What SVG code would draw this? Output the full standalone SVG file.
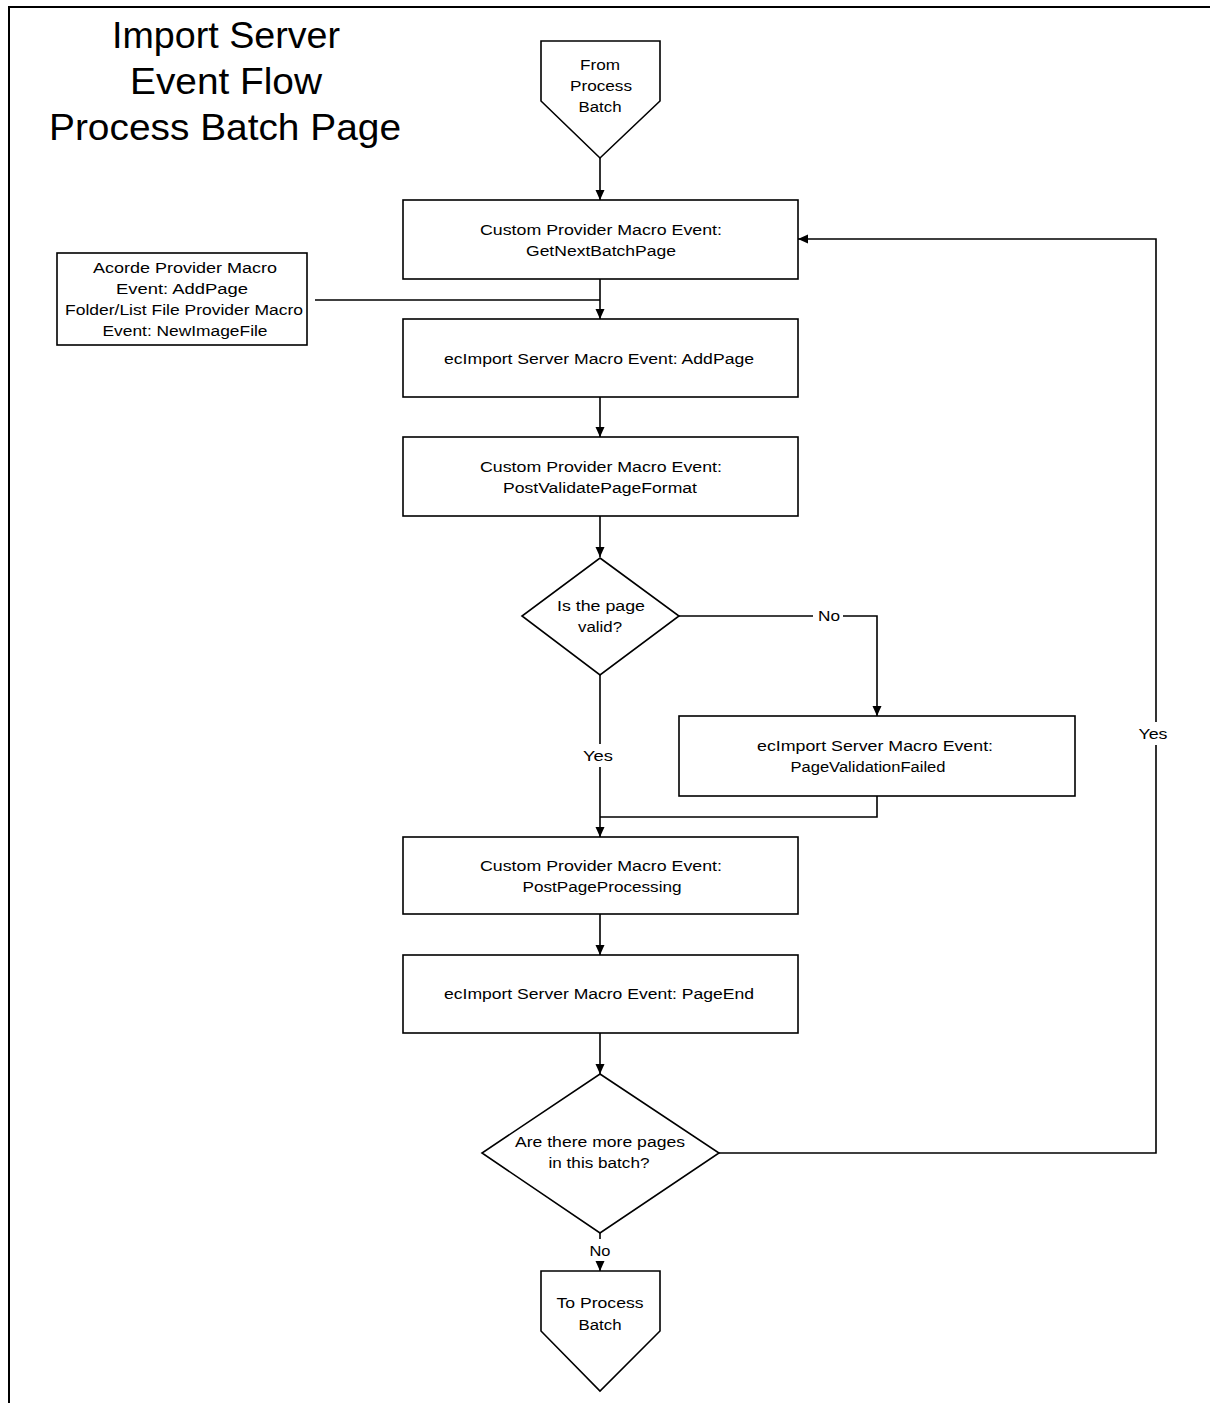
<svg xmlns="http://www.w3.org/2000/svg" width="1210" height="1403" viewBox="0 0 1210 1403">
<style>
.shape{fill:#fff;stroke:#000;stroke-width:1.6}
.conn{fill:none;stroke:#000;stroke-width:1.6}
text{font-family:"Liberation Sans",Arial,sans-serif;font-size:15.5px;fill:#000;text-anchor:middle}
.title{font-size:36px}
</style>
<defs>
<marker id="arr" markerUnits="userSpaceOnUse" markerWidth="11" markerHeight="11" refX="10" refY="5.5" orient="auto">
<path d="M0,1 L10,5.5 L0,10 Z" fill="#000"/>
</marker>
</defs>
<rect x="0" y="0" width="1210" height="1403" fill="#fff"/>
<path d="M9,1403 V7 H1210" fill="none" stroke="#000" stroke-width="2"/>
<g id="title">
<text class="title" x="226" y="48" textLength="228" lengthAdjust="spacingAndGlyphs">Import Server</text>
<text class="title" x="226" y="94" textLength="192" lengthAdjust="spacingAndGlyphs">Event Flow</text>
<text class="title" x="225" y="140" textLength="352" lengthAdjust="spacingAndGlyphs">Process Batch Page</text>
</g>
<g id="connectors">
<path class="conn" d="M600,158 V200" marker-end="url(#arr)"/>
<path class="conn" d="M600,279 V319" marker-end="url(#arr)"/>
<path class="conn" d="M315,300 H600"/>
<path class="conn" d="M600,397 V437" marker-end="url(#arr)"/>
<path class="conn" d="M600,516 V557" marker-end="url(#arr)"/>
<path class="conn" d="M679,616 H813"/>
<path class="conn" d="M843,616 H877 V716" marker-end="url(#arr)"/>
<path class="conn" d="M600,675 V744"/>
<path class="conn" d="M600,767 V837" marker-end="url(#arr)"/>
<path class="conn" d="M877,796 V817 H600"/>
<path class="conn" d="M600,914 V955" marker-end="url(#arr)"/>
<path class="conn" d="M600,1033 V1074" marker-end="url(#arr)"/>
<path class="conn" d="M719,1153 H1156 V745"/>
<path class="conn" d="M1156,722 V239 H798" marker-end="url(#arr)"/>
<path class="conn" d="M600,1233 V1239"/>
<path class="conn" d="M600,1261 V1271" marker-end="url(#arr)"/>
<text x="829" y="621" textLength="22" lengthAdjust="spacingAndGlyphs">No</text>
<text x="598" y="761" textLength="30" lengthAdjust="spacingAndGlyphs">Yes</text>
<text x="1153" y="739" textLength="29" lengthAdjust="spacingAndGlyphs">Yes</text>
<text x="600" y="1256" textLength="21" lengthAdjust="spacingAndGlyphs">No</text>
</g>
<g id="from-process-batch">
<path class="shape" d="M541,41 H660 V101 L600,158 L541,101 Z"/>
<text x="600" y="70" textLength="40" lengthAdjust="spacingAndGlyphs">From</text>
<text x="601" y="91" textLength="62" lengthAdjust="spacingAndGlyphs">Process</text>
<text x="600" y="112" textLength="43" lengthAdjust="spacingAndGlyphs">Batch</text>
</g>
<g id="get-next-batch-page">
<rect class="shape" x="403" y="200" width="395" height="79"/>
<text x="601" y="235" textLength="242" lengthAdjust="spacingAndGlyphs">Custom Provider Macro Event:</text>
<text x="601" y="256" textLength="150" lengthAdjust="spacingAndGlyphs">GetNextBatchPage</text>
</g>
<g id="acorde-provider">
<rect class="shape" x="57" y="253" width="250" height="92"/>
<text x="185" y="273" textLength="184" lengthAdjust="spacingAndGlyphs">Acorde Provider Macro</text>
<text x="182" y="294" textLength="132" lengthAdjust="spacingAndGlyphs">Event: AddPage</text>
<text x="184" y="315" textLength="238" lengthAdjust="spacingAndGlyphs">Folder/List File Provider Macro</text>
<text x="185" y="336" textLength="165" lengthAdjust="spacingAndGlyphs">Event: NewImageFile</text>
</g>
<g id="add-page">
<rect class="shape" x="403" y="319" width="395" height="78"/>
<text x="599" y="364" textLength="310" lengthAdjust="spacingAndGlyphs">ecImport Server Macro Event: AddPage</text>
</g>
<g id="post-validate">
<rect class="shape" x="403" y="437" width="395" height="79"/>
<text x="601" y="472" textLength="242" lengthAdjust="spacingAndGlyphs">Custom Provider Macro Event:</text>
<text x="600" y="493" textLength="194" lengthAdjust="spacingAndGlyphs">PostValidatePageFormat</text>
</g>
<g id="page-valid">
<path class="shape" d="M600,558 L679,616 L600,675 L522,616 Z"/>
<text x="601" y="611" textLength="88" lengthAdjust="spacingAndGlyphs">Is the page</text>
<text x="600" y="632" textLength="44" lengthAdjust="spacingAndGlyphs">valid?</text>
</g>
<g id="validation-failed">
<rect class="shape" x="679" y="716" width="396" height="80"/>
<text x="875" y="751" textLength="236" lengthAdjust="spacingAndGlyphs">ecImport Server Macro Event:</text>
<text x="868" y="772" textLength="155" lengthAdjust="spacingAndGlyphs">PageValidationFailed</text>
</g>
<g id="post-page-processing">
<rect class="shape" x="403" y="837" width="395" height="77"/>
<text x="601" y="871" textLength="242" lengthAdjust="spacingAndGlyphs">Custom Provider Macro Event:</text>
<text x="602" y="892" textLength="159" lengthAdjust="spacingAndGlyphs">PostPageProcessing</text>
</g>
<g id="page-end">
<rect class="shape" x="403" y="955" width="395" height="78"/>
<text x="599" y="999" textLength="310" lengthAdjust="spacingAndGlyphs">ecImport Server Macro Event: PageEnd</text>
</g>
<g id="more-pages">
<path class="shape" d="M600,1074 L719,1153 L600,1233 L482,1153 Z"/>
<text x="600" y="1147" textLength="170" lengthAdjust="spacingAndGlyphs">Are there more pages</text>
<text x="599" y="1168" textLength="101" lengthAdjust="spacingAndGlyphs">in this batch?</text>
</g>
<g id="to-process-batch">
<path class="shape" d="M541,1271 H660 V1331 L600,1391 L541,1331 Z"/>
<text x="600" y="1308" textLength="87" lengthAdjust="spacingAndGlyphs">To Process</text>
<text x="600" y="1330" textLength="43" lengthAdjust="spacingAndGlyphs">Batch</text>
</g>
</svg>
